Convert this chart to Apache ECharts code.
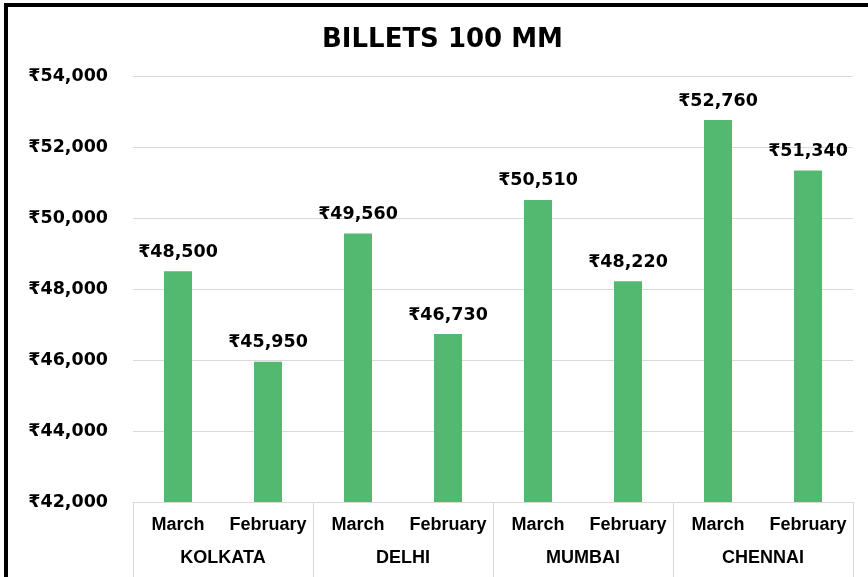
<!DOCTYPE html>
<html>
<head>
<meta charset="utf-8">
<script src="https://cdn.jsdelivr.net/npm/echarts@6/dist/echarts.min.js"></script>
<style>
    html, body { margin: 0; padding: 0; background: #fff; }
    #chartDiv { width: 868px; height: 577px; }
    #frame {
        position: absolute; left: 4px; top: 3px; width: 880px; height: 600px;
        border-left: 4px solid #000; border-top: 4px solid #000; pointer-events: none;
    }
</style>
</head>
<body>
<div id="chartDiv"></div>
<div id="frame"></div>
<script>
var months = ['March', 'February', 'March', 'February', 'March', 'February', 'March', 'February'];
var cities = ['KOLKATA', 'DELHI', 'MUMBAI', 'CHENNAI'];
var prices = [48500, 45950, 49560, 46730, 50510, 48220, 52760, 51340];
var yTicks = { min: 42000, max: 54000, step: 2000 };

var font = 'Liberation Sans, Arial, sans-serif';
var numFont = 'DejaVu Sans, sans-serif';

// 货币格式
function rupee(v) {
    return '₹' + String(v).replace(/\B(?=(\d{3})+(?!\d))/g, ',');
}

var myChart = echarts.init(document.getElementById('chartDiv'));
var option = {
    backgroundColor: '#fff',
    animation: false,
    title: {
        text: 'BILLETS 100 MM',
        left: 322,
        top: 27,
        padding: 0,
        textStyle: { fontFamily: numFont, fontSize: 26, fontWeight: 'bold', color: '#000' }
    },
    grid: { left: 133, right: 15, top: 76, bottom: 75, containLabel: false },
    xAxis: [{
        type: 'category',
        data: months,
        position: 'bottom',
        axisLine: { show: true, lineStyle: { color: '#d9d9d9', width: 1 } },
        axisTick: { show: false },
        axisLabel: { interval: 0, margin: 14, fontFamily: font, fontSize: 18, fontWeight: 'bold', color: '#000' }
    }, {
        type: 'category',
        data: cities,
        position: 'bottom',
        axisLine: { show: false },
        axisTick: { show: true, interval: 0, length: 75, lineStyle: { color: '#d9d9d9', width: 1 } },
        axisLabel: { interval: 0, margin: 47, fontFamily: font, fontSize: 18, fontWeight: 'bold', color: '#000' }
    }],
    yAxis: {
        type: 'value',
        min: yTicks.min,
        max: yTicks.max,
        interval: yTicks.step,
        axisLine: { show: false },
        axisTick: { show: false },
        splitLine: { lineStyle: { color: '#d9d9d9', width: 1 } },
        axisLabel: {
            margin: 25,
            fontFamily: numFont, fontSize: 17.5, fontWeight: 'bold', color: '#000',
            formatter: function (v) { return rupee(v); }
        }
    },
    series: [{
        type: 'bar',
        xAxisIndex: 0,
        data: prices,
        barWidth: 28,
        itemStyle: { color: '#53b970' },
        label: {
            show: true,
            position: 'top',
            distance: 10,
            fontFamily: numFont, fontSize: 17.5, fontWeight: 'bold', color: '#000',
            formatter: function (p) { return rupee(p.value); }
        }
    }]
};
myChart.setOption(option);
</script>
</body>
</html>
